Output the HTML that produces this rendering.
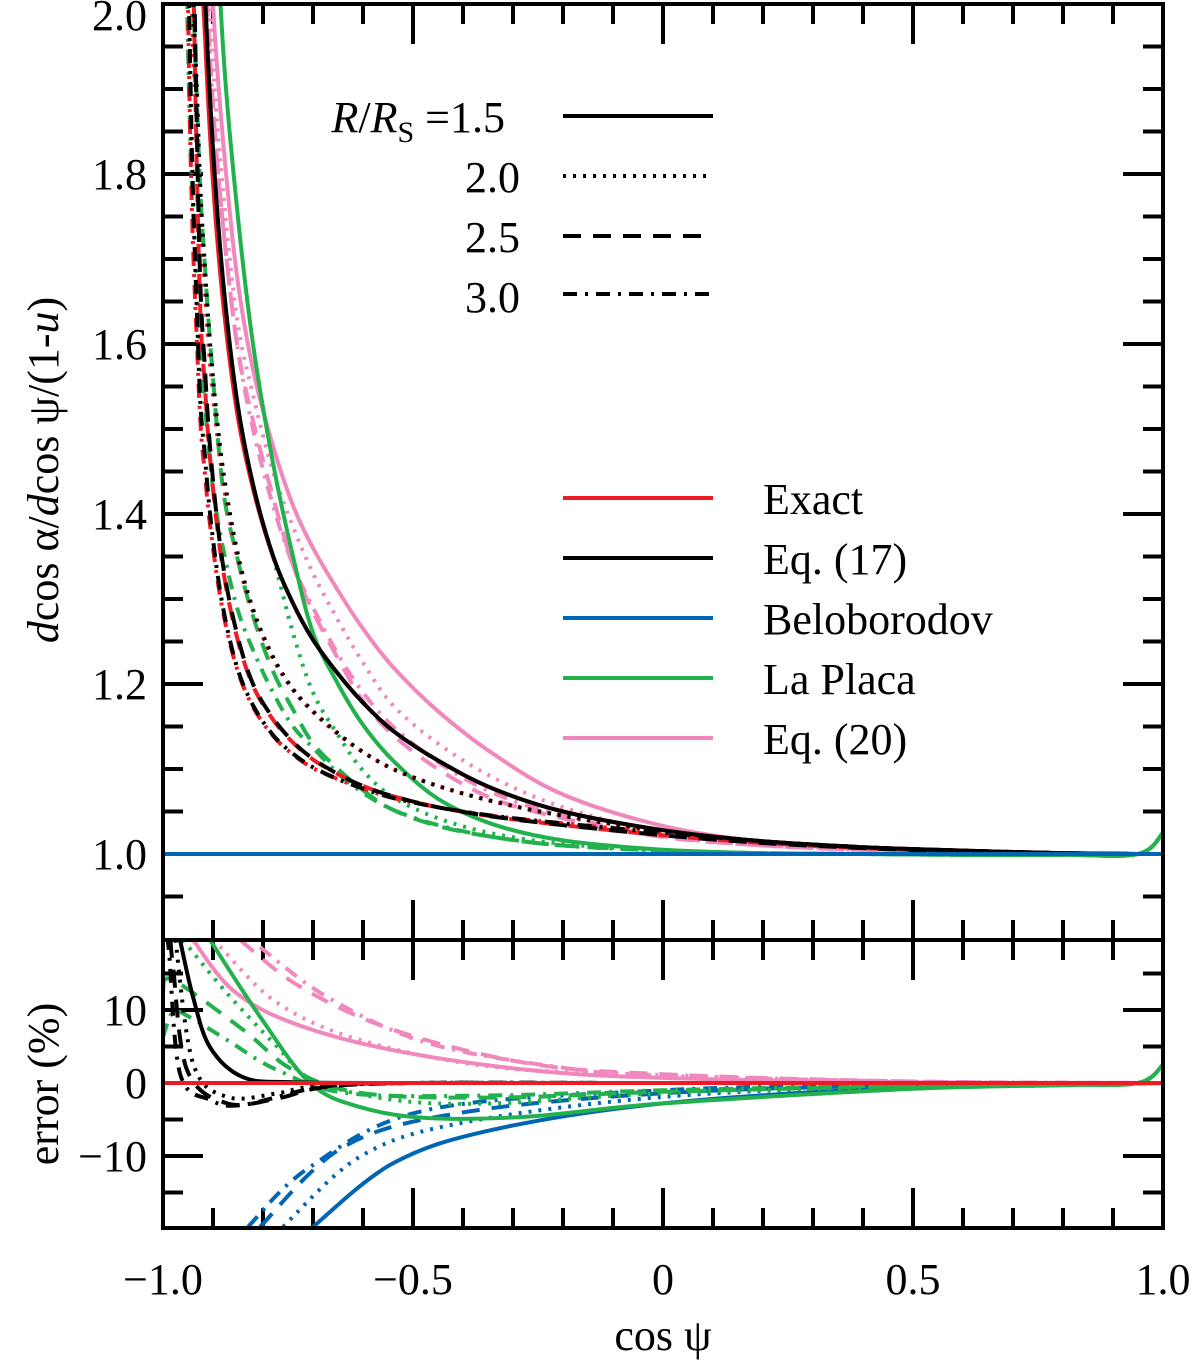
<!DOCTYPE html>
<html><head><meta charset="utf-8"><style>
body{margin:0;background:#fff}
svg{display:block}
text{font-family:"Liberation Serif",serif;fill:#000}
</style></head><body>
<svg id="chart" width="1200" height="1366" viewBox="0 0 1200 1366" xmlns="http://www.w3.org/2000/svg">
<defs>
<clipPath id="clipTop"><rect x="163" y="4" width="1000" height="936"/></clipPath>
<clipPath id="clipBot"><rect x="163" y="940" width="1000" height="288"/></clipPath>
</defs>
<g id="axes"></g>
<g id="topSeries" clip-path="url(#clipTop)"></g>
<g id="botSeries" clip-path="url(#clipBot)"></g>
<rect x="163" y="4" width="1000" height="1224" fill="none" stroke="#000" stroke-width="4"/>
<line x1="163" y1="940" x2="1163" y2="940" stroke="#000" stroke-width="4"/>
<g id="labels"></g>
<g>
<text x="505" y="132" font-size="44" text-anchor="end"><tspan font-style="italic">R</tspan>/<tspan font-style="italic">R</tspan><tspan font-size="30" dy="10">S</tspan><tspan dy="-10"> =1.5</tspan></text>
<text x="520" y="192" font-size="44" text-anchor="end">2.0</text>
<text x="520" y="252" font-size="44" text-anchor="end">2.5</text>
<text x="520" y="312" font-size="44" text-anchor="end">3.0</text>
<line x1="563" y1="116" x2="713" y2="116" stroke="#000" stroke-width="4"/>
<line x1="563" y1="176" x2="713" y2="176" stroke="#000" stroke-width="4" stroke-dasharray="3,7"/>
<line x1="563" y1="236" x2="713" y2="236" stroke="#000" stroke-width="4" stroke-dasharray="18,12"/>
<line x1="563" y1="294" x2="713" y2="294" stroke="#000" stroke-width="4" stroke-dasharray="14,8,3,8"/>
</g>
<g>
<line x1="563" y1="498" x2="713" y2="498" stroke="#ed1c24" stroke-width="4"/>
<text x="763" y="514" font-size="44">Exact</text>
<line x1="563" y1="558" x2="713" y2="558" stroke="#000" stroke-width="4"/>
<text x="763" y="574" font-size="44">Eq. (17)</text>
<line x1="563" y1="618" x2="713" y2="618" stroke="#0066b3" stroke-width="4"/>
<text x="763" y="634" font-size="44">Beloborodov</text>
<line x1="563" y1="678" x2="713" y2="678" stroke="#22b14c" stroke-width="4"/>
<text x="763" y="694" font-size="44">La Placa</text>
<line x1="563" y1="738" x2="713" y2="738" stroke="#f088bd" stroke-width="4"/>
<text x="763" y="754" font-size="44">Eq. (20)</text>
</g>
<text x="663" y="1350" font-size="44" text-anchor="middle">cos ψ</text>
<text transform="translate(58,470) rotate(-90)" font-size="44" text-anchor="middle"><tspan font-style="italic">d</tspan>cos α/<tspan font-style="italic">d</tspan>cos ψ/(1-<tspan font-style="italic">u</tspan>)</text>
<text transform="translate(58,1084) rotate(-90)" font-size="44" text-anchor="middle">error (%)</text>
</svg>
<script>
// ---- axis data ----
const xTicks = [-1.0, -0.5, 0, 0.5, 1.0];
const xTickLabels = ["\u22121.0", "\u22120.5", "0", "0.5", "1.0"];
const topTicks = [1.0, 1.2, 1.4, 1.6, 1.8, 2.0];
const topTickLabels = ["1.0", "1.2", "1.4", "1.6", "1.8", "2.0"];
const errTicks = [10, 0, -10];
const errTickLabels = ["10", "0", "\u221210"];

// ---- top panel: shared cos(psi) grid, values given as excess over 1 (v - 1) ----
const cosGrid = [-0.97,-0.95,-0.93,-0.915,-0.9,-0.88,-0.852,-0.82,-0.78,-0.74,-0.7,-0.65,-0.6,-0.54,-0.45,-0.34,-0.2,0,0.2,0.4,0.6,0.8,0.95,1.0];

const exact15 = [2.8,1.85,1.18,0.95,0.79,0.65,0.52,0.43,0.35,0.295,0.252,0.212,0.178,0.145,0.11,0.077,0.05,0.028,0.015,0.008,0.004,0.001,0,0];
const exact20 = [2.8,1.25,0.82,0.65,0.54,0.44,0.35,0.285,0.23,0.193,0.167,0.141,0.12,0.1,0.08,0.062,0.045,0.027,0.015,0.008,0.004,0.001,0,0];
const exact25 = [2.8,1.5,0.74,0.54,0.43,0.335,0.255,0.198,0.158,0.131,0.111,0.094,0.08,0.068,0.055,0.044,0.034,0.022,0.013,0.007,0.003,0.001,0,0];
const exact30 = [2.3,1.0,0.57,0.44,0.36,0.285,0.218,0.173,0.139,0.117,0.101,0.088,0.077,0.066,0.055,0.045,0.036,0.025,0.015,0.008,0.004,0.001,0,0];

const eq17_15 = [3,2,1.25,1.0,0.83,0.676,0.534,0.435,0.351,0.295,0.252,0.212,0.178,0.145,0.11,0.077,0.05,0.028,0.015,0.008,0.004,0.001,0,0];
const eq17_20 = [3,1.35,0.86,0.68,0.56,0.453,0.357,0.288,0.232,0.194,0.168,0.142,0.12,0.1,0.08,0.062,0.045,0.027,0.015,0.008,0.004,0.001,0,0];
const eq17_25 = [3,1.6,0.78,0.56,0.44,0.34,0.259,0.2,0.16,0.132,0.112,0.094,0.08,0.068,0.055,0.044,0.034,0.022,0.013,0.007,0.003,0.001,0,0];
const eq17_30 = [2.5,1.1,0.6,0.46,0.37,0.29,0.22,0.175,0.14,0.118,0.102,0.088,0.077,0.066,0.055,0.045,0.036,0.025,0.015,0.008,0.004,0.001,0,0];

const beloGrid = [-1.0,-0.5,0,0.5,1.0];
const belo = [0,0,0,0,0];

const lap15 = [5,3,2,1.5,1.2,0.95,0.76,0.6,0.46,0.35,0.26,0.2,0.152,0.11,0.065,0.035,0.016,0.005,0.001,0,-0.001,-0.001,0,0.025];
const lap20 = [3,1.7,1.15,0.95,0.8,0.66,0.53,0.43,0.35,0.26,0.19,0.14,0.098,0.067,0.042,0.024,0.012,0.004,0.001,0,-0.001,-0.001,0,0.025];
const lap25 = [2.5,1.3,0.85,0.68,0.56,0.43,0.35,0.28,0.215,0.17,0.13,0.1,0.075,0.052,0.033,0.02,0.01,0.004,0.001,0,-0.001,-0.001,0,0.025];
const lap30 = [1.8,0.95,0.65,0.52,0.43,0.36,0.29,0.24,0.19,0.15,0.125,0.095,0.072,0.052,0.034,0.02,0.01,0.004,0.001,0,-0.001,-0.001,0,0.025];

const eq20_15 = [4,2.2,1.5,1.2,1.0,0.84,0.68,0.57,0.48,0.41,0.36,0.31,0.265,0.22,0.168,0.118,0.07,0.033,0.014,0.006,0.003,0.001,0,0];
const eq20_20 = [3.5,2.0,1.4,1.12,0.93,0.78,0.63,0.54,0.45,0.385,0.33,0.275,0.225,0.175,0.13,0.09,0.055,0.025,0.012,0.005,0.002,0.001,0,0];
const eq20_25 = [3.3,1.9,1.3,1.05,0.88,0.74,0.6,0.51,0.42,0.34,0.285,0.23,0.18,0.14,0.1,0.065,0.042,0.02,0.01,0.005,0.002,0.001,0,0];
const eq20_30 = [3.3,1.9,1.3,1.05,0.88,0.74,0.6,0.5,0.41,0.34,0.29,0.235,0.19,0.15,0.108,0.072,0.045,0.021,0.01,0.005,0.002,0.001,0,0];

// ---- error panel series (cos psi, error %) ----
const errExact_c = [-1.0,0,1.0];
const errExact_e = [0,0,0];

const err17_15_c = [-0.966,-0.94,-0.906,-0.84,-0.74,-0.5,0,1.0];
const err17_15_e = [19.6,11.8,4.9,0.8,0.1,0,0,0];
const err17_20_c = [-0.975,-0.94,-0.872,-0.77,-0.7,-0.5,0,1.0];
const err17_20_e = [19.6,2.7,-1.9,-1.4,-0.5,0,0,0];
const err17_25_c = [-0.985,-0.98,-0.952,-0.872,-0.77,-0.68,-0.5,0,1.0];
const err17_25_e = [19.6,16,1.8,-2.8,-2.1,-0.6,0,0,0];
const err17_30_c = [-0.992,-0.988,-0.966,-0.906,-0.84,-0.68,-0.5,0,1.0];
const err17_30_e = [19.6,18,1.3,-2.3,-3.0,-0.5,0,0,0];

const errBelo15_c = [-0.7,-0.54,-0.34,0,0.5,1.0];
const errBelo15_e = [-19.7,-11,-6.4,-2.8,-0.6,0];
const errBelo20_c = [-0.76,-0.606,-0.406,0,0.5,1.0];
const errBelo20_e = [-19.7,-10.1,-5.5,-1.9,-0.4,0];
const errBelo25_c = [-0.806,-0.64,-0.406,0,0.5,1.0];
const errBelo25_e = [-19.7,-8.8,-4.1,-1.4,-0.3,0];
const errBelo30_c = [-0.83,-0.706,-0.472,0,0.5,1.0];
const errBelo30_e = [-19.7,-11.5,-3.7,-1.0,-0.2,0];

const errLap15_c = [-0.906,-0.806,-0.706,-0.606,-0.472,-0.27,0,0.5,0.8,0.95,1.0];
const errLap15_e = [19.6,9.1,0,-3.3,-4.8,-4.6,-2.8,-0.8,-0.3,0,2.5];
const errLap20_c = [-0.96,-0.872,-0.772,-0.7,-0.54,-0.34,0,0.5,0.8,0.95,1.0];
const errLap20_e = [19.6,12.3,5,0.4,-2.3,-2.8,-1.4,-0.5,-0.2,0,2.5];
const errLap25_c = [-1.0,-0.98,-0.84,-0.74,-0.6,-0.34,0,0.5,0.8,0.95,1.0];
const errLap25_e = [12.7,14.1,7.3,1.8,-1.4,-2.0,-1.2,-0.4,-0.1,0,2.5];
const errLap30_c = [-1.0,-0.98,-0.946,-0.872,-0.772,-0.63,-0.34,0,0.5,0.8,0.95,1.0];
const errLap30_e = [6.3,9.7,9,5.9,1.8,-1.4,-1.7,-1.0,-0.3,-0.1,0,2.5];

const errEq20_15_c = [-0.94,-0.86,-0.74,-0.54,-0.27,0,0.5,1.0];
const errEq20_15_e = [19.6,12.7,8.2,4.5,1.8,0.7,0.1,0];
const errEq20_20_c = [-0.886,-0.772,-0.606,-0.34,0,0.5,1.0];
const errEq20_20_e = [18.7,11,5.9,2.2,1.1,0.15,0];
const errEq20_25_c = [-0.846,-0.726,-0.54,-0.27,0,0.5,1.0];
const errEq20_25_e = [19.6,13.2,7.3,2.7,1.2,0.2,0];
const errEq20_30_c = [-0.806,-0.672,-0.472,-0.2,0,0.5,1.0];
const errEq20_30_e = [18.6,11.8,5.5,2.1,1.0,0.2,0];

// ---- scales ----
const X0 = 163, X1 = 1163;
function xs(c){ return X0 + (c + 1) / 2 * (X1 - X0); }
function ysTop(v){ return 854 - (v - 1) * 850; }
function ysExcess(dv){ return ysTop(1 + dv); }
function ysErr(e){ return 1083 - e * 7.3; }

const NS = "http://www.w3.org/2000/svg";
const COL = {exact:"#ed1c24", eq17:"#000000", belo:"#0066b3", lap:"#22b14c", eq20:"#f088bd"};
const DASH = {s:"", d:"3,7", k:"18,12", dd:"14,8,3,8"};

function smoothPath(pts){
  let d = "M" + pts[0][0].toFixed(1) + "," + pts[0][1].toFixed(1);
  for (let i = 0; i < pts.length - 1; i++){
    const p0 = pts[i-1] || pts[i], p1 = pts[i], p2 = pts[i+1], p3 = pts[i+2] || p2;
    const c1x = p1[0] + (p2[0]-p0[0])/6, c1y = p1[1] + (p2[1]-p0[1])/6;
    const c2x = p2[0] - (p3[0]-p1[0])/6, c2y = p2[1] - (p3[1]-p1[1])/6;
    d += " C" + c1x.toFixed(1)+","+c1y.toFixed(1)+" "+c2x.toFixed(1)+","+c2y.toFixed(1)+" "+p2[0].toFixed(1)+","+p2[1].toFixed(1);
  }
  return d;
}
function drawSeries(group, cs, vs, yfn, color, dash, name){
  const pts = cs.map((c,i)=>[xs(c), yfn(vs[i])]);
  const p = document.createElementNS(NS, "path");
  p.setAttribute("d", smoothPath(pts));
  p.setAttribute("fill", "none");
  p.setAttribute("stroke", color);
  p.setAttribute("stroke-width", "4");
  if (dash) p.setAttribute("stroke-dasharray", dash);
  
  
  group.appendChild(p);
}

const topG = document.getElementById("topSeries");
drawSeries(topG, cosGrid, eq20_15, ysExcess, COL.eq20, DASH.s, "eq20-r1-5");
drawSeries(topG, cosGrid, eq20_20, ysExcess, COL.eq20, DASH.d, "eq20-r2-0");
drawSeries(topG, cosGrid, eq20_25, ysExcess, COL.eq20, DASH.k, "eq20-r2-5");
drawSeries(topG, cosGrid, eq20_30, ysExcess, COL.eq20, DASH.dd, "eq20-r3-0");
drawSeries(topG, cosGrid, lap15, ysExcess, COL.lap, DASH.s, "laplaca-r1-5");
drawSeries(topG, cosGrid, lap20, ysExcess, COL.lap, DASH.d, "laplaca-r2-0");
drawSeries(topG, cosGrid, lap25, ysExcess, COL.lap, DASH.k, "laplaca-r2-5");
drawSeries(topG, cosGrid, lap30, ysExcess, COL.lap, DASH.dd, "laplaca-r3-0");
drawSeries(topG, cosGrid, exact15, ysExcess, COL.exact, DASH.s, "exact-r1-5");
drawSeries(topG, cosGrid, exact20, ysExcess, COL.exact, DASH.d, "exact-r2-0");
drawSeries(topG, cosGrid, exact25, ysExcess, COL.exact, DASH.k, "exact-r2-5");
drawSeries(topG, cosGrid, exact30, ysExcess, COL.exact, DASH.dd, "exact-r3-0");
drawSeries(topG, cosGrid, eq17_15, ysExcess, COL.eq17, DASH.s, "eq17-r1-5");
drawSeries(topG, cosGrid, eq17_20, ysExcess, COL.eq17, DASH.d, "eq17-r2-0");
drawSeries(topG, cosGrid, eq17_25, ysExcess, COL.eq17, DASH.k, "eq17-r2-5");
drawSeries(topG, cosGrid, eq17_30, ysExcess, COL.eq17, DASH.dd, "eq17-r3-0");
drawSeries(topG, beloGrid, belo, ysExcess, COL.belo, DASH.s, "beloborodov-line");

const botG = document.getElementById("botSeries");
drawSeries(botG, errEq20_15_c, errEq20_15_e, ysErr, COL.eq20, DASH.s, "error-eq20-r1-5");
drawSeries(botG, errEq20_20_c, errEq20_20_e, ysErr, COL.eq20, DASH.d, "error-eq20-r2-0");
drawSeries(botG, errEq20_25_c, errEq20_25_e, ysErr, COL.eq20, DASH.k, "error-eq20-r2-5");
drawSeries(botG, errEq20_30_c, errEq20_30_e, ysErr, COL.eq20, DASH.dd, "error-eq20-r3-0");
drawSeries(botG, errBelo15_c, errBelo15_e, ysErr, COL.belo, DASH.s, "error-belo-r1-5");
drawSeries(botG, errBelo20_c, errBelo20_e, ysErr, COL.belo, DASH.d, "error-belo-r2-0");
drawSeries(botG, errBelo25_c, errBelo25_e, ysErr, COL.belo, DASH.k, "error-belo-r2-5");
drawSeries(botG, errBelo30_c, errBelo30_e, ysErr, COL.belo, DASH.dd, "error-belo-r3-0");
drawSeries(botG, errLap15_c, errLap15_e, ysErr, COL.lap, DASH.s, "error-laplaca-r1-5");
drawSeries(botG, errLap20_c, errLap20_e, ysErr, COL.lap, DASH.d, "error-laplaca-r2-0");
drawSeries(botG, errLap25_c, errLap25_e, ysErr, COL.lap, DASH.k, "error-laplaca-r2-5");
drawSeries(botG, errLap30_c, errLap30_e, ysErr, COL.lap, DASH.dd, "error-laplaca-r3-0");
drawSeries(botG, err17_15_c, err17_15_e, ysErr, COL.eq17, DASH.s, "error-eq17-r1-5");
drawSeries(botG, err17_20_c, err17_20_e, ysErr, COL.eq17, DASH.d, "error-eq17-r2-0");
drawSeries(botG, err17_25_c, err17_25_e, ysErr, COL.eq17, DASH.k, "error-eq17-r2-5");
drawSeries(botG, err17_30_c, err17_30_e, ysErr, COL.eq17, DASH.dd, "error-eq17-r3-0");
drawSeries(botG, errExact_c, errExact_e, ysErr, COL.exact, DASH.s, "error-exact");

// ---- ticks ----
const axesG = document.getElementById("axes");
const labelsG = document.getElementById("labels");
function tick(x1,y1,x2,y2,name){
  const l = document.createElementNS(NS,"line");
  l.setAttribute("x1",x1); l.setAttribute("y1",y1); l.setAttribute("x2",x2); l.setAttribute("y2",y2);
  l.setAttribute("stroke","#000"); l.setAttribute("stroke-width","4");
  
  
  axesG.appendChild(l);
}
function label(x,y,txt,anchor,name){
  const t = document.createElementNS(NS,"text");
  t.setAttribute("x",x); t.setAttribute("y",y); t.setAttribute("font-size","44");
  t.setAttribute("text-anchor",anchor); t.textContent = txt;
  
  
  labelsG.appendChild(t);
}
for (let i = 1; i < 20; i++){
  const c = -1 + i*0.1, x = xs(c), major = (i % 5 === 0);
  const L = major ? 40 : 20;
  tick(x,4,x,4+L,"x-tick-top");
  tick(x,940,x,940-L,"x-tick-mid-up");
  tick(x,940,x,940+L,"x-tick-mid-down");
  tick(x,1228,x,1228-L,"x-tick-bottom");
}
xTicks.forEach((c,i)=>label(xs(c),1294,xTickLabels[i],"middle","x-tick-label"));
for (let i = 0; i <= 22; i++){
  const v = 0.9 + i*0.05, y = ysTop(v);
  if (y < 6 || y > 938) continue;
  const major = (Math.round(v*100) % 20 === 0);
  const L = major ? 40 : 20;
  tick(163,y,163+L,y,"y-tick-left-top");
  tick(1163,y,1163-L,y,"y-tick-right-top");
}
topTicks.forEach((v,i)=>label(147,Math.max(ysTop(v)+15,30),topTickLabels[i],"end","y-tick-label-top"));
for (let e = -15; e <= 15; e += 5){
  const y = ysErr(e), major = (e % 10 === 0);
  const L = major ? 40 : 20;
  tick(163,y,163+L,y,"y-tick-left-error");
  tick(1163,y,1163-L,y,"y-tick-right-error");
}
errTicks.forEach((e,i)=>label(147,ysErr(e)+15,errTickLabels[i],"end","y-tick-label-error"));
</script>
</body></html>
